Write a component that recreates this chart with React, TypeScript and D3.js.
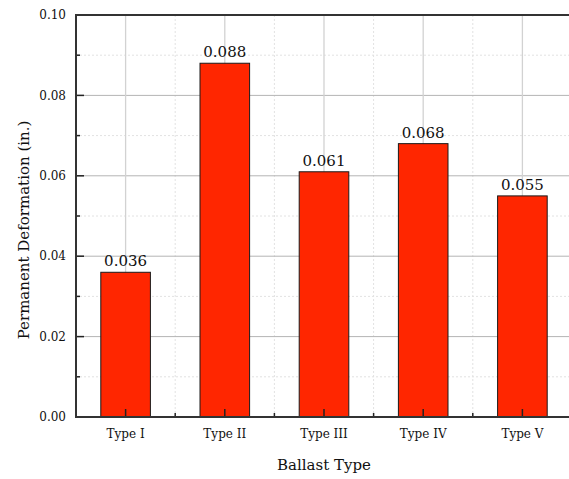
import * as d3 from "d3"

const categories = ["Type I", "Type II", "Type III", "Type IV", "Type V"]
const values = [0.036, 0.088, 0.061, 0.068, 0.055]
const valueLabels = ["0.036", "0.088", "0.061", "0.068", "0.055"]
const yMajorTicks = [0, 0.02, 0.04, 0.06, 0.08, 0.1]
const yMinorTicks = [0.01, 0.03, 0.05, 0.07, 0.09]

const width = 569
const height = 479
const margin = { top: 15, right: -3, bottom: 62, left: 76 }
const font = "'DejaVu Serif', serif"

export default function App() {
  const x = d3.scaleLinear()
    .domain([0.5, categories.length + 0.5])
    .range([margin.left, width - margin.right])
  const y = d3.scaleLinear()
    .domain([0, 0.1])
    .range([height - margin.bottom, margin.top])

  const x0 = x.range()[0], x1 = x.range()[1]
  const y0 = y.range()[0], y1 = y.range()[1]
  const barW = x(1.25) - x(0.75)
  const minorX = d3.range(1.5, categories.length + 0.5, 1)

  return (
    <svg width={width} height={height} style={{ position: "fixed", left: 0, top: 0, background: "#fff" }}>
      {/* minor grid */}
      {yMinorTicks.map(t => (
        <line key={"ym" + t} x1={x0} x2={x1} y1={y(t)} y2={y(t)} stroke="#e2e2e2" strokeDasharray="2,2" />
      ))}
      {minorX.map(t => (
        <line key={"xm" + t} x1={x(t)} x2={x(t)} y1={y0} y2={y1} stroke="#e2e2e2" strokeDasharray="2,2" />
      ))}
      {/* major grid */}
      {yMajorTicks.slice(1, -1).map(t => (
        <line key={"yg" + t} x1={x0} x2={x1} y1={y(t)} y2={y(t)} stroke="#b4b4b4" />
      ))}
      {categories.map((c, i) => (
        <line key={"xg" + c} x1={x(i + 1)} x2={x(i + 1)} y1={y0} y2={y1} stroke="#d2d2d2" strokeWidth={1.3} />
      ))}

      {/* bars */}
      {values.map((v, i) => (
        <rect key={"b" + i} x={x(i + 1) - barW / 2} y={y(v)} width={barW} height={y(0) - y(v)}
          fill="#ff2600" stroke="#1a1a1a" strokeWidth={1} />
      ))}
      {values.map((v, i) => (
        <text key={"v" + i} x={x(i + 1)} y={y(v) - 6} textAnchor="middle" fontFamily={font} fontSize={15} fill="#111">
          {valueLabels[i]}
        </text>
      ))}

      {/* ticks */}
      {yMajorTicks.map(t => (
        <line key={"yt" + t} x1={x0} x2={x0 + 8} y1={y(t)} y2={y(t)} stroke="#222" strokeWidth={1.5} />
      ))}
      {yMinorTicks.map(t => (
        <line key={"ymt" + t} x1={x0} x2={x0 + 4} y1={y(t)} y2={y(t)} stroke="#222" strokeWidth={1.5} />
      ))}
      {categories.map((c, i) => (
        <line key={"xt" + c} x1={x(i + 1)} x2={x(i + 1)} y1={y0} y2={y0 - 8} stroke="#222" strokeWidth={1.5} />
      ))}
      {minorX.map(t => (
        <line key={"xmt" + t} x1={x(t)} x2={x(t)} y1={y0} y2={y0 - 4} stroke="#222" strokeWidth={1.5} />
      ))}

      {/* frame */}
      <line x1={x0} x2={x1} y1={y1} y2={y1} stroke="#333" strokeWidth={2} />
      <line x1={x0} x2={x0} y1={y1 - 1} y2={y0 + 1} stroke="#333" strokeWidth={2} />
      <line x1={x0 - 1} x2={x1} y1={y0} y2={y0} stroke="#333" strokeWidth={2} />

      {/* tick labels */}
      {yMajorTicks.map(t => (
        <text key={"yl" + t} x={x0 - 10} y={y(t)} dy="0.35em" textAnchor="end" fontFamily={font} fontSize={12} fill="#111">
          {d3.format(".2f")(t)}
        </text>
      ))}
      {categories.map((c, i) => (
        <text key={"xl" + c} x={x(i + 1)} y={y0 + 21} textAnchor="middle" fontFamily={font} fontSize={12} fill="#111">
          {c}
        </text>
      ))}

      {/* axis titles */}
      <text x={(x0 + x1) / 2} y={470} textAnchor="middle" fontFamily={font} fontSize={15} fill="#111">
        Ballast Type
      </text>
      <text transform={`translate(29,230) rotate(-90)`} textAnchor="middle" fontFamily={font} fontSize={15} fill="#111">
        Permanent Deformation (in.)
      </text>
    </svg>
  )
}
